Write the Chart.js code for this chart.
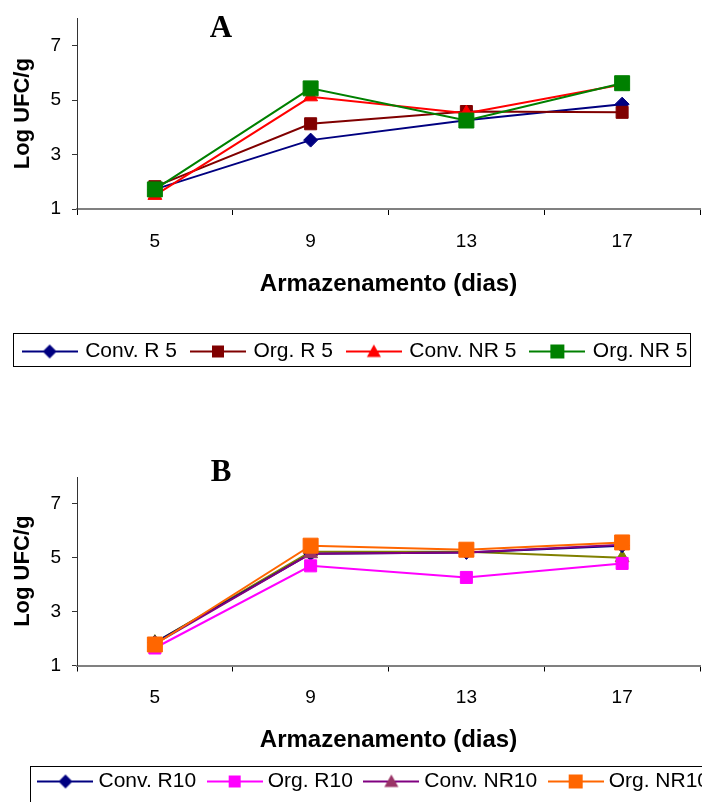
<!DOCTYPE html>
<html>
<head>
<meta charset="utf-8">
<script src="https://cdn.jsdelivr.net/npm/chart.js@4.4.0/dist/chart.umd.min.js"></script>
<style>
  html, body { margin: 0; padding: 0; background: #fff; overflow: hidden; }
  body { width: 702px; height: 802px; position: relative; }
  #boxA { position: absolute; left: 0; top: -4px; width: 702px; height: 376px; overflow: hidden; }
  #boxA .inner { width: 712px; height: 376px; }
  #boxB { position: absolute; left: 0; top: 440px; width: 702px; height: 362px; overflow: hidden; }
  #boxB .inner { width: 752px; height: 362px; }
</style>
</head>
<body>
<div id="boxA"><div class="inner"><canvas id="chartA"></canvas></div></div>
<div id="boxB"><div class="inner"><canvas id="chartB"></canvas></div></div>
<script>
// storage days on the x axis
var days = ['5', '9', '13', '17'];
var yTicks = [1, 3, 5, 7];

// panel A (5)
var convR5 = [1.72, 3.53, 4.26, 4.85];
var orgR5 = [1.82, 4.13, 4.58, 4.55];
var convNR5 = [1.50, 5.12, 4.52, 5.57];
var orgNR5 = [1.72, 5.43, 4.25, 5.62];

// panel B (10)
var convR10 = [1.85, 5.15, 5.20, 5.45];
var orgR10 = [1.65, 4.70, 4.27, 4.79];
var convNR10 = [1.80, 5.15, 5.20, 5.48];
var orgNR10 = [1.78, 5.45, 5.30, 5.57];
var extra10 = [1.85, 5.22, 5.22, 5.00];   // olive line, not in visible legend

var sans = '"Liberation Sans", Arial, sans-serif';

// little line + marker picture for the legend
function legendIcon(lineColor, markColor, shape, size) {
  var c = document.createElement('canvas');
  c.width = 56; c.height = 20;
  var g = c.getContext('2d');
  g.strokeStyle = lineColor; g.lineWidth = 2;
  g.beginPath(); g.moveTo(0, 10); g.lineTo(56, 10); g.stroke();
  g.fillStyle = markColor;
  g.beginPath();
  if (shape === 'rectRot') {
    g.moveTo(28, 10 - size); g.lineTo(28 + size, 10); g.lineTo(28, 10 + size); g.lineTo(28 - size, 10);
  } else if (shape === 'triangle') {
    g.moveTo(28, 10 - size); g.lineTo(28 + size, 10 + size * 0.8); g.lineTo(28 - size, 10 + size * 0.8);
  } else {
    g.rect(28 - size, 10 - size, size * 2, size * 2);
  }
  g.closePath(); g.fill();
  return c;
}

function series(label, data, line, mark, shape, r, order) {
  return {
    label: label, data: data, order: order,
    borderColor: line, backgroundColor: mark, borderWidth: 2,
    pointStyle: shape, pointRadius: r, pointBackgroundColor: mark,
    pointBorderColor: mark, pointBorderWidth: 1, tension: 0
  };
}

var decor = {
  id: 'decor',
  afterDraw: function (chart, args, o) {
    var ctx = chart.ctx;
    ctx.save();
    ctx.fillStyle = '#000';
    ctx.font = 'bold 31px "Liberation Serif", "Times New Roman", serif';
    ctx.textAlign = 'center';
    ctx.textBaseline = 'alphabetic';
    ctx.fillText(o.letter, o.letterX, o.letterY);
    ctx.strokeStyle = '#000';
    ctx.lineWidth = 1;
    ctx.strokeRect(o.frame[0] + 0.5, o.frame[1] + 0.5, o.frame[2], o.frame[3]);
    ctx.restore();
  }
};

function makeChart(id, sets, icons, opt) {
  return new Chart(document.getElementById(id), {
    type: 'line',
    data: { labels: days, datasets: sets },
    plugins: [decor],
    options: {
      responsive: true,
      maintainAspectRatio: false,
      animation: false,
      layout: { padding: { top: opt.top, right: 0, bottom: 0, left: 0 } },
      scales: {
        x: {
          offset: true,
          grid: { offset: true, drawOnChartArea: false, drawTicks: true, tickLength: 6, color: '#000', lineWidth: 1 },
          border: { display: true, color: '#808080', width: 2 },
          ticks: { color: '#000', font: { family: sans, size: 19 }, padding: 15 },
          title: { display: true, text: 'Armazenamento (dias)', color: '#000',
                   font: { family: sans, size: 24, weight: 'bold' },
                   padding: { top: 0, bottom: opt.titlePad } },
          afterFit: function (s) { s.height = opt.xHeight; s.paddingLeft = 0; s.paddingRight = 0; }
        },
        y: {
          min: 1, max: 8,
          afterBuildTicks: function (s) { s.ticks = yTicks.map(function (v) { return { value: v }; }); },
          grid: { drawOnChartArea: false, drawTicks: true, tickLength: 5, color: '#333' },
          border: { display: true, color: '#333', width: 1 },
          ticks: { color: '#000', font: { family: sans, size: 19 }, padding: 11 },
          title: { display: true, text: 'Log UFC/g', color: '#000',
                   font: { family: sans, size: 22, weight: 'bold' },
                   padding: { top: 10, bottom: 0 } },
          afterFit: function (s) { s.width = 77; }
        },
        r: {
          position: 'right', display: true,
          grid: { display: false }, border: { display: false }, ticks: { display: false },
          afterFit: function (s) { s.width = opt.right; }
        }
      },
      plugins: {
        tooltip: { enabled: false },
        decor: { letter: opt.letter, letterX: 221, letterY: opt.letterY, frame: opt.frame },
        legend: {
          position: 'bottom',
          labels: {
            usePointStyle: true, pointStyleWidth: opt.boxW, padding: 16,
            color: '#000', font: { family: sans, size: 21 },
            generateLabels: function (chart) {
              var out = [];
              chart.data.datasets.forEach(function (ds, i) {
                if (!icons[i]) return;
                out.push({ text: ds.label, pointStyle: icons[i], datasetIndex: i,
                           hidden: false, lineWidth: 0, fillStyle: 'rgba(0,0,0,0)',
                           strokeStyle: 'rgba(0,0,0,0)', fontColor: '#000' });
              });
              return out;
            }
          }
        }
      }
    }
  });
}

makeChart('chartA', [
  series('Conv. R 5', convR5, '#000080', '#000080', 'rectRot', 7, 3),
  series('Org. R 5', orgR5, '#800000', '#800000', 'rect', 8.5, 2),
  series('Conv. NR 5', convNR5, '#FF0000', '#FF0000', 'triangle', 8, 1),
  series('Org. NR 5', orgNR5, '#008000', '#008000', 'rect', 10.6, 0)
], [
  legendIcon('#000080', '#000080', 'rectRot', 7),
  legendIcon('#800000', '#800000', 'rect', 6),
  legendIcon('#FF0000', '#FF0000', 'triangle', 7),
  legendIcon('#008000', '#008000', 'rect', 7)
], { letter: 'A', letterY: 41, top: 18, xHeight: 116, titlePad: 26, right: 12, boxW: 50,
     frame: [13, 337, 677, 33] });

makeChart('chartB', [
  series('Conv. R10', convR10, '#000080', '#000080', 'rectRot', 7, 3),
  series('Org. R10', orgR10, '#FF00FF', '#FF00FF', 'rect', 8.5, 2),
  series('Conv. NR10', convNR10, '#800080', '#993366', 'triangle', 8, 1),
  series('Org. NR10', orgNR10, '#FF6600', '#FF6600', 'rect', 10.6, 0),
  series('', extra10, '#808000', '#808000', 'triangle', 8, 4)
], [
  legendIcon('#000080', '#000080', 'rectRot', 7),
  legendIcon('#FF00FF', '#FF00FF', 'rect', 6),
  legendIcon('#800080', '#993366', 'triangle', 7),
  legendIcon('#FF6600', '#FF6600', 'rect', 7)
], { letter: 'B', letterY: 41, top: 37, xHeight: 89.5, titlePad: 0, right: 52, boxW: 45,
     frame: [30, 326, 900, 100] });
</script>
</body>
</html>
